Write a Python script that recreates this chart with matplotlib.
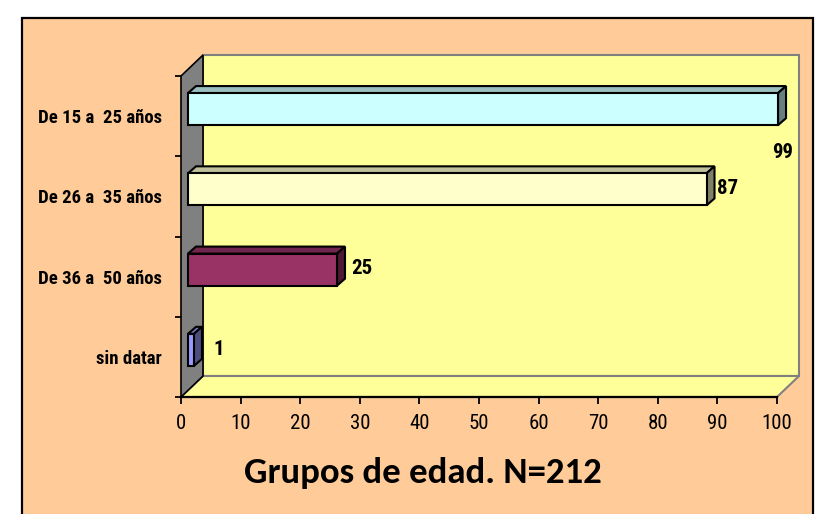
import matplotlib
matplotlib.use("Agg")
import matplotlib.pyplot as plt
from matplotlib.patches import Polygon, Rectangle
import numpy as np

# data, top to bottom as in the chart
categories = ["De 15 a  25 años", "De 26 a  35 años", "De 36 a  50 años", "sin datar"]
values = [99, 87, 25, 1]
front_colors = ["#CCFFFF", "#FFFFCC", "#993366", "#9999FF"]
top_colors = ["#99BFBF", "#BFBF99", "#73264D", "#7373BF"]
side_colors = ["#668080", "#808066", "#4D1A33", "#4D4D80"]
xticks = list(range(0, 101, 10))
title = "Grupos de edad. N=212"

NARROW = ["Roboto Condensed", "Liberation Sans", "DejaVu Sans"]

W, H = 824, 514
fig = plt.figure(figsize=(W / 100, H / 100), dpi=100, facecolor="white")

# peach frame
fig.patches.append(Rectangle((22 / W, -0.02), (813 - 22) / W, (514 - 18) / H + 0.02,
                             transform=fig.transFigure, facecolor="#FFCC99",
                             edgecolor="black", linewidth=1.6, zorder=-1))

# front plane of the plot area, in pixels
x0, x1, yb, yt = 181, 777, 397, 76
ax = fig.add_axes([x0 / W, (H - yb) / H, (x1 - x0) / W, (yb - yt) / H])
ax.set_zorder(1)
ax.set_xlim(0, 100)
n = len(categories)
ax.set_ylim(-0.5, n - 0.5)
ax.patch.set_alpha(0)

sx = (x1 - x0) / 100.0       # px per unit
sy = (yb - yt) / n           # px per category


def px(dx, dy):
    return dx / sx, dy / sy


# walls
wdx, wdy = px(22, 21)
lo, hi = -0.5, n - 0.5
back = Rectangle((wdx, lo + wdy), 100, n, facecolor="#FFFF99", edgecolor="#808080",
                 linewidth=1.5, clip_on=False, zorder=1)
ax.add_patch(back)
floor = Polygon([(0, lo), (100, lo), (100 + wdx, lo + wdy), (wdx, lo + wdy)],
                closed=True, facecolor="#FFFF99", edgecolor="#808080", linewidth=1.5,
                clip_on=False, zorder=1.5)
ax.add_patch(floor)
left = Polygon([(0, lo), (0, hi), (wdx, hi + wdy), (wdx, lo + wdy)],
               closed=True, facecolor="#808080", edgecolor="black", linewidth=1.2,
               clip_on=False, zorder=1.6)
ax.add_patch(left)

# bars
fdx, fdy = px(7, 7)
bdx, bdy = px(8, 7)
bh = 0.4
pos = np.arange(n)[::-1]
for i, (v, p) in enumerate(zip(values, pos)):
    yc = p + fdy
    ax.barh(yc, v, left=fdx, height=bh, color=front_colors[i], edgecolor="black",
            linewidth=1.5, zorder=3, clip_on=False)
    l, r = fdx, v + fdx
    b, t = yc - bh / 2, yc + bh / 2
    ax.add_patch(Polygon([(l, t), (r, t), (r + bdx, t + bdy), (l + bdx, t + bdy)],
                         closed=True, facecolor=top_colors[i], edgecolor="black",
                         linewidth=1.5, zorder=2.9, clip_on=False))
    ax.add_patch(Polygon([(r, b), (r, t), (r + bdx, t + bdy), (r + bdx, b + bdy)],
                         closed=True, facecolor=side_colors[i], edgecolor="black",
                         linewidth=1.5, zorder=2.9, clip_on=False))

# data labels (the 99 label sits below its bar in the original)
label_nudge = {0: px(-16, -43), 1: px(0, 1), 2: px(4, 1), 3: px(9, 0)}
for i, (v, p) in enumerate(zip(values, pos)):
    ddx, ddy = label_nudge.get(i, px(0, 0))
    ax.text(v + fdx + bdx + px(2, 0)[0] + ddx, p + fdy + ddy, str(v),
            ha="left", va="center", fontsize=15, fontweight="bold",
            family=NARROW, zorder=5, clip_on=False)

# axes styling
for s in ["top", "right"]:
    ax.spines[s].set_visible(False)
ax.spines["left"].set_visible(False)
ax.spines["bottom"].set_linewidth(1.6)
ax.spines["bottom"].set_zorder(4)
ax.set_xticks(xticks)
ax.set_xticklabels([str(t) for t in xticks], fontsize=15, family=NARROW)
ax.tick_params(axis="x", length=5, width=1.3, pad=7, direction="out")
ax.set_yticks(pos)
ax.set_yticklabels(categories, fontsize=13.5, fontweight="bold", family=NARROW)
ax.set_yticks(np.arange(n + 1) - 0.5, minor=True)
ax.tick_params(axis="y", which="major", length=0, pad=14)
ax.tick_params(axis="y", which="minor", length=4, width=1.3, direction="out")

fig.text(423 / W, 1 - 473 / H, title, ha="center", va="center", fontsize=26.5,
         fontweight="bold", family=["Carlito", "DejaVu Sans"])

fig.savefig("out.png", dpi=100)
